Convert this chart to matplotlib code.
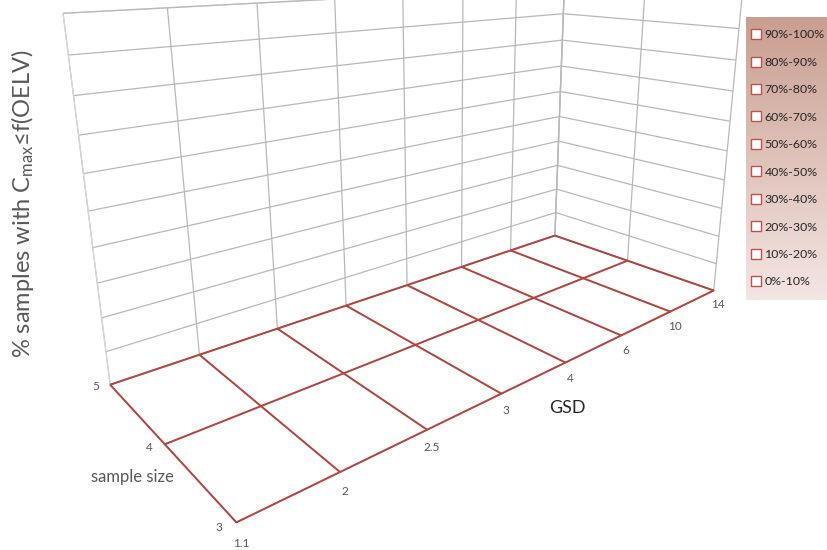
import numpy as np
import matplotlib
matplotlib.use("Agg")
import matplotlib.pyplot as plt
from matplotlib.lines import Line2D
from matplotlib.colors import LinearSegmentedColormap

# categories
gsd = ["1.1", "2", "2.5", "3", "4", "6", "10", "14"]
sample_size = ["3", "4", "5"]
# % samples with Cmax <= f(OELV), rows = sample size, cols = GSD (surface lies flat on the floor)
pct_n3 = [0, 0, 0, 0, 0, 0, 0, 0]
pct_n4 = [0, 0, 0, 0, 0, 0, 0, 0]
pct_n5 = [0, 0, 0, 0, 0, 0, 0, 0]
bands = ["90%-100%", "80%-90%", "70%-80%", "60%-70%", "50%-60%",
         "40%-50%", "30%-40%", "20%-30%", "10%-20%", "0%-10%"]

plt.rcParams['font.family'] = ['Lato', 'DejaVu Sans']
plt.rcParams['mathtext.default'] = 'regular'
plt.rcParams['grid.color'] = '#b8b8b8'
plt.rcParams['grid.linewidth'] = 0.9

fig = plt.figure(figsize=(8.27, 5.5), dpi=100)
side = 725
cx, cy = 438, 187
ax = fig.add_axes([(cx - side / 2) / 827, (550 - cy - side / 2) / 550, side / 827, side / 550],
                  projection='3d')
ax.set_proj_type('persp', focal_length=0.21)
ax.view_init(elev=16, azim=-131)
ax.set_box_aspect((2.46, 1.0, 1.36))

X, Y = np.meshgrid(np.arange(len(gsd)), np.arange(len(sample_size)))
Z = np.array([pct_n3, pct_n4, pct_n5])
ax.plot_wireframe(X, Y, Z, color='#b5453f', linewidth=1.4)

ax.set_xlim(0, len(gsd) - 1)
ax.set_ylim(0, len(sample_size) - 1)
ax.set_zlim(0, 100)
ax.set_xticks(range(len(gsd)))
ax.set_xticklabels(gsd)
ax.set_yticks(range(len(sample_size)))
ax.set_zticks(range(0, 101, 10))

# no labels on the y / z ticks (y labels are drawn below, z has none)
ax.yaxis.set_tick_params(labelbottom=False)
ax.zaxis.set_tick_params(labelbottom=False)
for t in ax.get_yticklabels() + ax.get_zticklabels():
    t.set_visible(False)
for axis in (ax.xaxis, ax.yaxis, ax.zaxis):
    axis.label.set_visible(False)

# sample size labels sit just in front of the left floor edge, like Excel does
for i, s in enumerate(sample_size):
    ax.text(-0.15, i, 0, s, ha='center', va='baseline', fontsize=8.5, color='#595959')

for axis in (ax.xaxis, ax.yaxis, ax.zaxis):
    axis.set_pane_color((1, 1, 1, 1))
    axis.pane.set_edgecolor('#d9d9d9')
    axis.line.set_color('#d9d9d9')
    axis._axinfo['tick']['inward_factor'] = 0.0
    axis._axinfo['tick']['outward_factor'] = 0.1
ax.zaxis._axinfo['tick']['outward_factor'] = 0.0
ax.tick_params(axis='both', colors='#595959', labelsize=8.5)
ax.tick_params(axis='x', pad=-1)

fig.text(0.027, 0.63, r'% samples with C$_{max}$≤f(OELV)', rotation=90,
         fontsize=17, color='#595959', ha='center', va='center')
fig.text(0.16, 0.133, 'sample size', fontsize=12, color='#595959', ha='center', va='center')
fig.text(0.686, 0.258, 'GSD', fontsize=13, color='#262626', ha='center', va='center')

# legend box with a vertical gradient
lax = fig.add_axes([0.902, 0.4545, 0.12, 0.515])
cmap = LinearSegmentedColormap.from_list('leg', ['#f4e6e3', '#c99e90'])
lax.imshow(np.linspace(0, 1, 256).reshape(-1, 1), aspect='auto', cmap=cmap,
           extent=[0, 1, 0, 1], origin='lower')
lax.set_axis_off()
handles = [Line2D([], [], marker='s', linestyle='none', markersize=7,
                  markerfacecolor='white', markeredgecolor='#c0504d', markeredgewidth=1.0)
           for _ in bands]
lax.legend(handles, bands, loc='center left', bbox_to_anchor=(0.0, 0.5), frameon=False,
           fontsize=8.9, labelspacing=1.33, handlelength=0.8, handletextpad=0.25,
           borderaxespad=0.05, labelcolor='#262626')

fig.savefig('out.png', dpi=100)
